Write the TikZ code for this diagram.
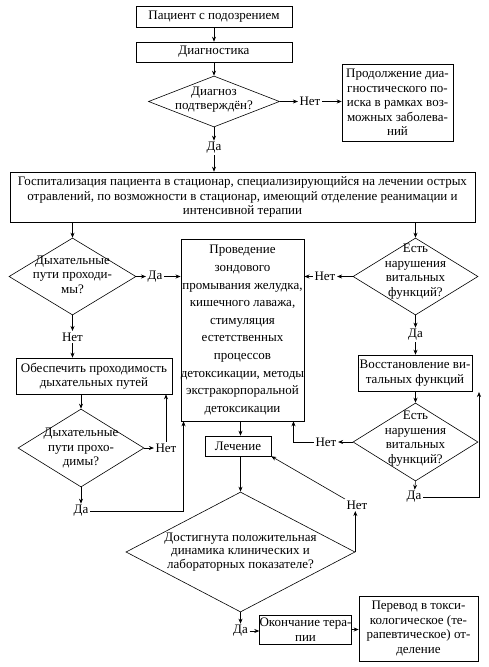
\documentclass[tikz,border=0pt]{standalone}
\usepackage{fontspec}
\setmainfont{Liberation Serif}
\usetikzlibrary{shapes.geometric,arrows.meta,calc}
\begin{document}
\begin{tikzpicture}[x=1pt,y=-1pt,
  font=\fontsize{13}{14.5}\selectfont,
  box/.style={draw, line width=0.6pt, inner sep=0pt, align=center},
  dia/.style={draw, diamond, inner sep=0pt, line width=0.6pt},
  lbl/.style={inner sep=1.5pt},
  arr/.style={-{Stealth[length=5pt,width=4pt]}, line width=0.6pt}]
\useasboundingbox (0,0) rectangle (489,667);

\node[box, minimum width=156pt, minimum height=21pt] (p1) at (214,16.5) {Пациент с подозрением};
\node[box, minimum width=156pt, minimum height=20pt] (p2) at (214,52) {Диагностика};
\node[dia, minimum width=131pt, minimum height=51pt,
  label={[align=center, yshift=2pt]center:Диагноз\\подтверждён?}] (d1) at (214,101.5) {};
\node[lbl] (n1) at (310,101.5) {Нет};
\node[box, minimum width=111pt, minimum height=77pt] (cont) at (397.5,102.5)
  {Продолжение диа-\\гностического по-\\иска в рамках воз-\\можных заболева-\\ний};
\node[lbl] (y1) at (214,148) {Да};
\node[box, minimum width=465pt, minimum height=50pt] (hosp) at (242.5,197)
  {Госпитализация пациента в стационар, специализирующийся на лечении острых\\отравлений, по возможности в стационар, имеющий отделение реанимации и\\интенсивной терапии};

\node[dia, minimum width=127pt, minimum height=77pt,
  label={[align=center, yshift=2pt]center:Дыхательные\\пути проходи-\\мы?}] (d2) at (72.5,276.5) {};
\node[lbl] (y2) at (155,276.5) {Да};
\node[box, minimum width=123pt, minimum height=182pt, font=\fontsize{13}{17.6}\selectfont] (det) at (242.5,330)
  {Проведение\\зондового\\промывания желудка,\\кишечного лаважа,\\стимуляция\\естетственных\\процессов\\детоксикации, методы\\экстракорпоральной\\детоксикации};

\node[dia, minimum width=125pt, minimum height=77pt,
  label={[align=center, yshift=5pt]center:Есть\\нарушения\\витальных\\функций?}] (d3) at (415.5,276.5) {};
\node[lbl] (n3) at (325,276.5) {Нет};
\node[lbl] (y3) at (415.5,335) {Да};
\node[box, minimum width=114pt, minimum height=36pt] (rest) at (415,373) {Восстановление ви-\\тальных функций};
\node[dia, minimum width=125pt, minimum height=78pt,
  label={[align=center, yshift=3.5pt]center:Есть\\нарушения\\витальных\\функций?}] (d4) at (415.5,442) {};
\node[lbl] (n4) at (326,442) {Нет};
\node[lbl] (y4) at (414,497) {Да};
\coordinate (c4) at (479,392);

\node[lbl] (n2) at (72.5,337) {Нет};
\node[box, minimum width=156pt, minimum height=36pt] (air) at (94,376) {Обеспечить проходимость\\дыхательных путей};
\node[dia, minimum width=126pt, minimum height=78pt,
  label={[align=center]center:Дыхательные\\пути прохо-\\димы?}] (d5) at (81,448) {};
\node[lbl] (n5) at (166,448) {Нет};
\node[lbl] (y5) at (81,511) {Да};

\node[box, minimum width=66pt, minimum height=20pt] (treat) at (238,446) {Лечение};
\node[dia, minimum width=229pt, minimum height=120pt,
  label={[align=center, font=\fontsize{13}{13.5}\selectfont]center:Достигнута положительная\\динамика клинических и\\лабораторных показателе?}] (d6) at (240.5,552) {};
\node[lbl] (n6) at (357,505) {Нет};
\node[lbl] (y6) at (240.5,631) {Да};
\node[box, minimum width=79pt, minimum height=29pt] (endb) at (305.5,629.5) {Окончание тера-\\пии};
\node[box, minimum width=119pt, minimum height=65pt] (trans) at (418.5,628.5)
  {Перевод в токси-\\кологическое (те-\\рапевтическое) от-\\деление};

\draw[arr] (p1) -- (p2);
\draw[arr] (p2) -- (d1);
\draw[arr] (d1.east) -- (n1);
\draw[arr] (n1.east) -- (n1.east -| cont.west);
\draw[arr] (d1.south) -- (y1);
\draw[arr] (y1) -- (y1 |- hosp.north);
\draw[arr] (d2.north |- hosp.south) -- (d2.north);
\draw[arr] (d3.north |- hosp.south) -- (d3.north);
\draw[arr] (d2.east) -- (y2);
\draw[arr] (y2) -- (y2 -| det.west);
\draw[arr] (d3.west) -- (n3);
\draw[arr] (n3) -- (n3 -| det.east);
\draw[arr] (d3.south) -- (y3);
\draw[arr] (y3) -- (y3 |- rest.north);
\draw[arr] (d4.north |- rest.south) -- (d4.north);
\draw[arr] (d4.west) -- (n4);
\draw[arr] (n4.west) -| ([xshift=-11pt]det.south east);
\draw[arr] (d4.south) -- (y4);
\draw[arr] (y4.east) -| (c4);
\draw[arr] (d2.south) -- (n2);
\draw[arr] (n2) -- (n2 |- air.north);
\draw[arr] (d5.north |- air.south) -- (d5.north);
\draw[arr] (d5.east) -- (n5);
\draw[arr] (n5.north) -- (n5.north |- air.south);
\draw[arr] (d5.south) -- (y5);
\draw[arr] (y5.east) -| ([xshift=3pt]det.south west);
\draw[arr] (det.south -| d6.north) -- (treat.north -| d6.north);
\draw[arr] (treat.south -| d6.north) -- (d6.north);
\draw[arr] (d6.east) -- (d6.east |- n6.south);
\draw[arr] (n6.north west) -- (treat.south east);
\draw[arr] (d6.south) -- (y6);
\draw[arr] (y6.east) -- (y6.east -| endb.west);
\draw[arr] (endb.east) -- (endb.east -| trans.west);
\end{tikzpicture}
\end{document}
